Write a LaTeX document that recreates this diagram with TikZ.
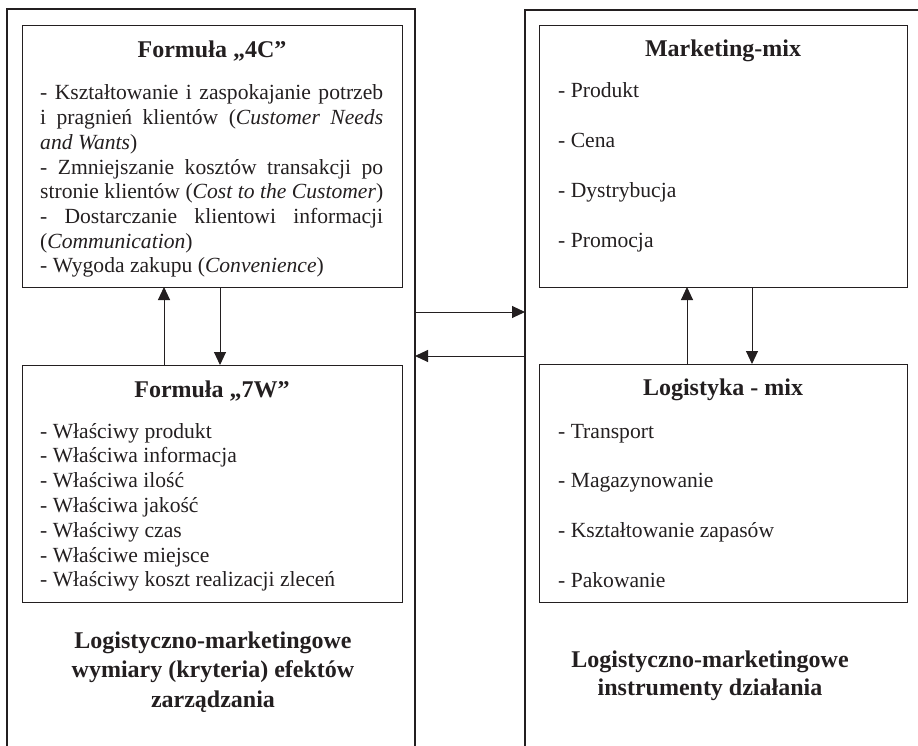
\documentclass[tikz,border=0pt]{standalone}
\usepackage{fontspec}
\setmainfont{Liberation Serif}
\usetikzlibrary{arrows.meta,calc}
\definecolor{ink}{RGB}{35,31,32}
\begin{document}
\begin{tikzpicture}[x=1pt,y=-1pt,
  frame/.style={draw=ink,line width=1.6pt,inner sep=0pt,outer sep=0pt,anchor=north west},
  box/.style={draw=ink,line width=1pt,inner sep=0pt,outer sep=0pt,anchor=north west},
  arr/.style={draw=ink,line width=1pt,-{Triangle[length=13pt,width=12pt]}},
  ttl/.style={anchor=base,inner sep=0pt,text=ink,font=\fontsize{24}{28}\selectfont\bfseries},
  body/.style={anchor=base west,inner sep=0pt,text=ink},
  foot/.style={anchor=base,inner sep=0pt,text=ink},
]
\useasboundingbox (0,0) rectangle (918,746);
% outer frames (open at the bottom / right edge of the picture)
\node[frame,minimum width=408pt,minimum height=800pt] (L) at (7,9) {};
\node[frame,minimum width=500pt,minimum height=800pt] (R) at (525,10) {};
% inner boxes
\node[box,minimum width=380pt,minimum height=261pt] (c4) at (22,26) {};
\node[box,minimum width=380pt,minimum height=237pt] (w7) at (22,365) {};
\node[box,minimum width=368pt,minimum height=261pt] (mm) at (539,26) {};
\node[box,minimum width=368pt,minimum height=238pt] (lm) at (539,364) {};
% titles
\node[ttl] (t4c) at (212,58) {Formuła „4C”};
\node[ttl] (t7w) at (212,397) {Formuła „7W”};
\node[ttl] (tmm) at (723,57) {Marketing-mix};
\node[ttl] (tlm) at (723,395) {Logistyka - mix};
% 4C body
\node[body] (b4c) at (40,100) {\parbox[t]{343pt}{\fontsize{21.6}{24.7}\selectfont
\makebox[343pt][s]{- Kształtowanie i zaspokajanie potrzeb}\\
\makebox[343pt][s]{i pragnień klientów (\textit{Customer Needs}}\\
\textit{and Wants})\\
\makebox[343pt][s]{- Zmniejszanie kosztów transakcji po}\\
\makebox[343pt][s]{stronie klientów (\textit{Cost to the Customer})}\\
\makebox[343pt][s]{- Dostarczanie klientowi informacji}\\
(\textit{Communication})\\
- Wygoda zakupu (\textit{Convenience})}};
% 7W body
\node[body] (b7w) at (40,438) {\parbox[t]{343pt}{\fontsize{21.6}{24.8}\selectfont
- Właściwy produkt\\
- Właściwa informacja\\
- Właściwa ilość\\
- Właściwa jakość\\
- Właściwy czas\\
- Właściwe miejsce\\
- Właściwy koszt realizacji zleceń}};
% Marketing-mix body
\node[body] (bmm) at (558,98) {\parbox[t]{330pt}{\fontsize{21.6}{50}\selectfont
- Produkt\\
- Cena\\
- Dystrybucja\\
- Promocja}};
% Logistyka-mix body
\node[body] (blm) at (558,438) {\parbox[t]{330pt}{\fontsize{21.6}{49.7}\selectfont
- Transport\\
- Magazynowanie\\
- Kształtowanie zapasów\\
- Pakowanie}};
% footers
\node[foot] (fl) at (213,648) {\parbox[t]{380pt}{\centering\fontsize{24}{29.5}\selectfont\bfseries
Logistyczno-marketingowe\\
wymiary (kryteria) efektów\\
zarządzania}};
\node[foot] (fr) at (710,667) {\parbox[t]{360pt}{\centering\fontsize{24}{28}\selectfont\bfseries
Logistyczno-marketingowe\\
instrumenty działania}};
% connectors
\coordinate (h1) at (0,312);
\coordinate (h2) at (0,356);
\coordinate (v1) at (164,0);
\coordinate (v2) at (220,0);
\coordinate (v3) at (687,0);
\coordinate (v4) at (752,0);
\draw[arr] (L.east |- h1) -- (R.west |- h1);
\draw[arr] (R.west |- h2) -- (L.east |- h2);
\draw[arr] (w7.north -| v1) -- (c4.south -| v1);
\draw[arr] (c4.south -| v2) -- (w7.north -| v2);
\draw[arr] (lm.north -| v3) -- (mm.south -| v3);
\draw[arr] (mm.south -| v4) -- (lm.north -| v4);
\end{tikzpicture}
\end{document}
